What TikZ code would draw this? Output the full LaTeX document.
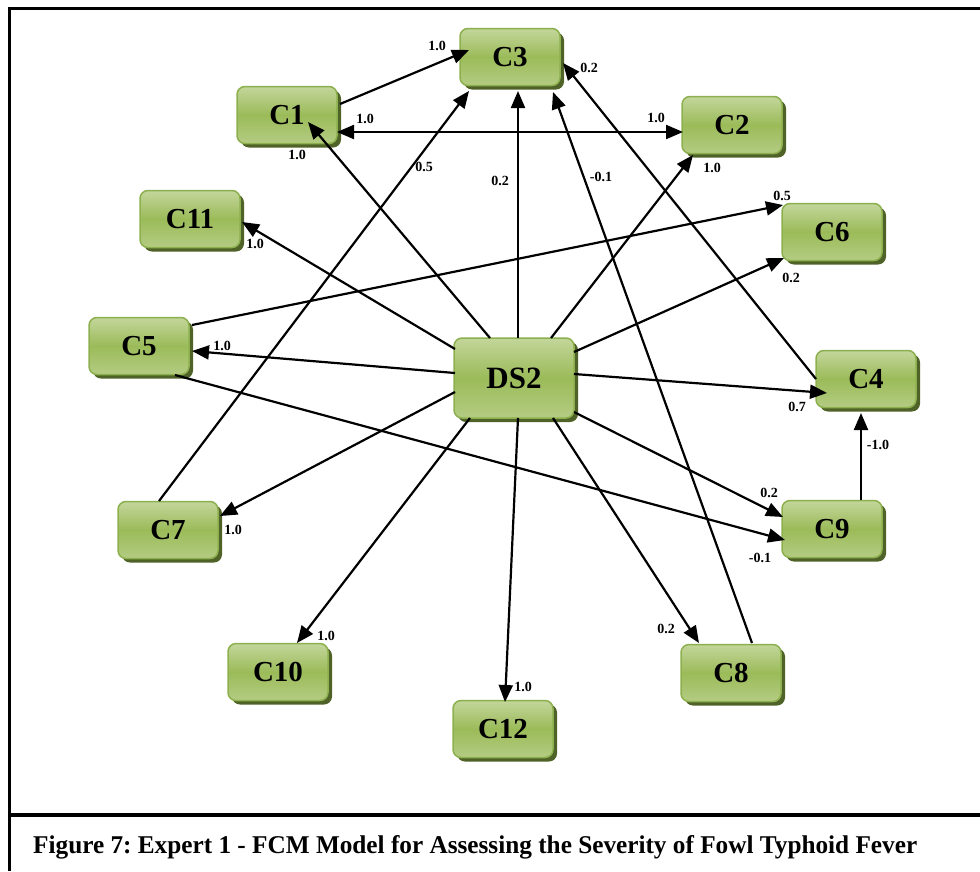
\documentclass[tikz,border=0pt]{standalone}
\usepackage{graphicx}
\usepackage{fontspec}
\setmainfont{Liberation Serif}
\usetikzlibrary{arrows.meta,shadows,calc}
\definecolor{boxtop}{HTML}{C3D69B}
\definecolor{boxmid}{HTML}{9BBB59}
\definecolor{boxbot}{HTML}{B4CC83}
\definecolor{boxline}{HTML}{8DB04E}
\definecolor{boxshadow}{HTML}{4F6228}
\frenchspacing
\begin{document}
\begin{tikzpicture}[x=1pt,y=-1pt,
  cbox/.style={rectangle, rounded corners=8pt, draw=boxline, line width=1.5pt,
    top color=boxtop, bottom color=boxbot, middle color=boxmid,
    minimum width=100pt, minimum height=57pt, inner sep=0pt,
    font=\fontsize{29}{31}\selectfont\bfseries,
    drop shadow={shadow xshift=4pt, shadow yshift=-4pt, fill=boxshadow, opacity=1}},
  bigbox/.style={cbox, minimum width=120pt, minimum height=80pt,
    font=\fontsize{31}{33}\selectfont\bfseries},
  tip/.tip={Triangle[length=17pt,width=14pt]},
  link/.style={draw, line width=2.2pt, -tip},
  lab/.style={font=\fontsize{14}{16}\selectfont\bfseries, inner sep=0pt}]
\useasboundingbox (0,0) rectangle (980,871);

% frame and caption rule
\draw[line width=3.5pt] (9.5,871) -- (9.5,8.5) -- (980,8.5);
\draw[line width=3.5pt] (9.5,815) -- (980,815);
\node[anchor=base west, inner sep=0pt] (cap) at (33,853)
  {\resizebox{884pt}{18pt}{\bfseries Figure 7: Expert 1 - FCM Model for Assessing the Severity of Fowl Typhoid Fever}};

% concept nodes
\node[bigbox] (DS2) at (514,378) {DS2};
\node[cbox] (C3)  at (510,57)  {C3};
\node[cbox] (C1)  at (287,115) {C1};
\node[cbox] (C2)  at (732,125) {C2};
\node[cbox] (C6)  at (832,232) {C6};
\node[cbox] (C4)  at (866,379) {C4};
\node[cbox] (C9)  at (832,529) {C9};
\node[cbox] (C11) at (190,219) {C11};
\node[cbox] (C5)  at (139,346) {C5};
\node[cbox] (C7)  at (168,530) {C7};
\node[cbox] (C10) at (278,672) {C10};
\node[cbox] (C12) at (503,729) {C12};
\node[cbox] (C8)  at (731,673) {C8};

% causal links
\draw[link] ($(C1)+(53,-11)$) -- ($(C3)+(-41,-7)$);
\draw[link] ($(DS2)+(-24,-40)$) -- ($(C1)+(21,7)$);
\draw[link, tip-tip] ($(C1)+(50,17)$) -- ($(C2)+(-49,7)$);
\draw[link] ($(C7)+(-9,-29)$) -- ($(C3)+(-41,34)$);
\draw[link] ($(DS2)+(4,-40)$) -- ($(C3)+(8,34)$);
\draw[link] ($(C8)+(21,-30)$) -- ($(C3)+(43,35)$);
\draw[link] ($(C4)+(-50,0)$) -- ($(C3)+(53,6)$);
\draw[link] ($(DS2)+(37,-40)$) -- ($(C2)+(-39,30)$);
\draw[link] ($(C5)+(53,-21)$) -- ($(C6)+(-49,-27)$);
\draw[link] ($(DS2)+(60,-26)$) -- ($(C6)+(-48,26)$);
\draw[link] ($(DS2)+(-59,-29)$) -- ($(C11)+(52,3)$);
\draw[link] ($(DS2)+(-59,-5)$) -- ($(C5)+(53,5)$);
\draw[link] ($(DS2)+(60,-4)$) -- ($(C4)+(-39,14)$);
\draw[link] ($(C5)+(36,29)$) -- ($(C9)+(-47,11)$);
\draw[link] ($(DS2)+(-59,14)$) -- ($(C7)+(52,-14)$);
\draw[link] ($(DS2)+(60,34)$) -- ($(C9)+(-49,-12)$);
\draw[link] ($(C9)+(29,-29)$) -- ($(C4)+(-5,34)$);
\draw[link] ($(DS2)+(-44,40)$) -- ($(C10)+(19,-29)$);
\draw[link] ($(DS2)+(4,40)$) -- ($(C12)+(2,-27)$);
\draw[link] ($(DS2)+(39,40)$) -- ($(C8)+(-32,-30)$);

% weights
\node[lab] (w1)  at (437,46)  {1.0};
\node[lab] (w2)  at (589,68)  {0.2};
\node[lab] (w3)  at (365,119) {1.0};
\node[lab] (w4)  at (656,118) {1.0};
\node[lab] (w5)  at (297,155) {1.0};
\node[lab] (w6)  at (424,167) {0.5};
\node[lab] (w7)  at (500,181) {0.2};
\node[lab] (w8)  at (601,177) {-0.1};
\node[lab] (w9)  at (712,168) {1.0};
\node[lab] (w10) at (782,196) {0.5};
\node[lab] (w11) at (791,278) {0.2};
\node[lab] (w12) at (255,244) {1.0};
\node[lab] (w13) at (222,346) {1.0};
\node[lab] (w14) at (797,407) {0.7};
\node[lab] (w15) at (878,445) {-1.0};
\node[lab] (w16) at (769,493) {0.2};
\node[lab] (w17) at (760,558) {-0.1};
\node[lab] (w18) at (233,530) {1.0};
\node[lab] (w19) at (326,636) {1.0};
\node[lab] (w20) at (523,687) {1.0};
\node[lab] (w21) at (666,629) {0.2};
\end{tikzpicture}
\end{document}
